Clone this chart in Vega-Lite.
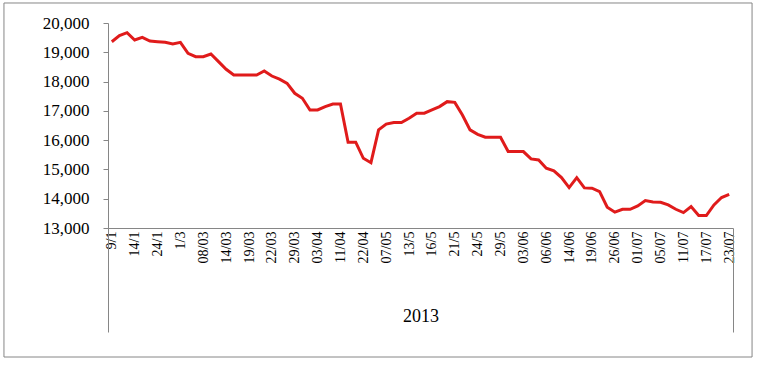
{
  "$schema": "https://vega.github.io/schema/vega-lite/v6.json",
  "width": 625,
  "height": 205,
  "autosize": {"type": "none"},
  "padding": {"left": 108, "top": 23, "right": 25, "bottom": 137},
  "background": "white",
  "config": {
    "view": {"stroke": null},
    "font": "Liberation Serif",
    "axis": {"labelFont": "Liberation Serif", "labelColor": "black", "grid": false, "domainColor": "#868686", "tickColor": "#868686", "domainWidth": 1, "tickWidth": 1, "labelOverlap": false}
  },
  "datasets": {
    "price": [
      {"i": 0, "price": 19360}, {"i": 1, "price": 19570}, {"i": 2, "price": 19670}, {"i": 3, "price": 19420},
      {"i": 4, "price": 19510}, {"i": 5, "price": 19385}, {"i": 6, "price": 19360}, {"i": 7, "price": 19340},
      {"i": 8, "price": 19285}, {"i": 9, "price": 19340}, {"i": 10, "price": 18965}, {"i": 11, "price": 18850},
      {"i": 12, "price": 18850}, {"i": 13, "price": 18940}, {"i": 14, "price": 18680}, {"i": 15, "price": 18420},
      {"i": 16, "price": 18225}, {"i": 17, "price": 18225}, {"i": 18, "price": 18225}, {"i": 19, "price": 18225},
      {"i": 20, "price": 18360}, {"i": 21, "price": 18190}, {"i": 22, "price": 18080}, {"i": 23, "price": 17940},
      {"i": 24, "price": 17600}, {"i": 25, "price": 17430}, {"i": 26, "price": 17030}, {"i": 27, "price": 17030},
      {"i": 28, "price": 17145}, {"i": 29, "price": 17235}, {"i": 30, "price": 17235}, {"i": 31, "price": 15930},
      {"i": 32, "price": 15930}, {"i": 33, "price": 15380}, {"i": 34, "price": 15230}, {"i": 35, "price": 16350},
      {"i": 36, "price": 16550}, {"i": 37, "price": 16600}, {"i": 38, "price": 16600}, {"i": 39, "price": 16750},
      {"i": 40, "price": 16920}, {"i": 41, "price": 16920}, {"i": 42, "price": 17030}, {"i": 43, "price": 17145},
      {"i": 44, "price": 17315}, {"i": 45, "price": 17290}, {"i": 46, "price": 16860}, {"i": 47, "price": 16350},
      {"i": 48, "price": 16200}, {"i": 49, "price": 16100}, {"i": 50, "price": 16100}, {"i": 51, "price": 16100},
      {"i": 52, "price": 15610}, {"i": 53, "price": 15610}, {"i": 54, "price": 15610}, {"i": 55, "price": 15360},
      {"i": 56, "price": 15325}, {"i": 57, "price": 15040}, {"i": 58, "price": 14950}, {"i": 59, "price": 14720},
      {"i": 60, "price": 14380}, {"i": 61, "price": 14720}, {"i": 62, "price": 14370}, {"i": 63, "price": 14360},
      {"i": 64, "price": 14245}, {"i": 65, "price": 13710}, {"i": 66, "price": 13540}, {"i": 67, "price": 13640},
      {"i": 68, "price": 13640}, {"i": 69, "price": 13755}, {"i": 70, "price": 13935}, {"i": 71, "price": 13890},
      {"i": 72, "price": 13880}, {"i": 73, "price": 13790}, {"i": 74, "price": 13640}, {"i": 75, "price": 13525},
      {"i": 76, "price": 13730}, {"i": 77, "price": 13425}, {"i": 78, "price": 13425}, {"i": 79, "price": 13790},
      {"i": 80, "price": 14040}, {"i": 81, "price": 14150}
    ],
    "year": [{"year": "2013"}]
  },
  "layer": [
    {
      "layer": [
        {
          "data": {"name": "price"},
          "mark": {"type": "line", "color": "#e01b1b", "strokeWidth": 3},
          "encoding": {
            "x": {
              "field": "i", "type": "quantitative",
              "scale": {"domain": [-0.5, 81.5], "nice": false, "zero": false},
              "axis": {
                "title": null,
                "values": [0, 3, 6, 9, 12, 15, 18, 21, 24, 27, 30, 33, 36, 39, 42, 45, 48, 51, 54, 57, 60, 63, 66, 69, 72, 75, 78, 81],
                "labelExpr": "['9/1','14/1','24/1','1/3','08/03','14/03','19/03','22/03','29/03','03/04','11/04','22/04','07/05','13/5','16/5','21/5','24/5','29/5','03/06','06/06','14/06','19/06','26/06','01/07','05/07','11/07','17/07','23/07'][round(datum.value/3)]",
                "labelAngle": 270,
                "ticks": false,
                "tickSize": 0,
                "labelPadding": 3,
                "labelFontSize": 14,
                "labelOverlap": false,
                "labelFlush": false,
                "labelBound": false
              }
            },
            "y": {
              "field": "price", "type": "quantitative",
              "scale": {"domain": [13000, 20000], "nice": false, "zero": false},
              "axis": {
                "title": null,
                "values": [13000, 14000, 15000, 16000, 17000, 18000, 19000, 20000],
                "format": ",d",
                "tickSize": 5,
                "labelPadding": 14,
                "labelFontSize": 17,
                "labelOverlap": false
              }
            }
          }
        },
        {
          "data": {"values": [{}]},
          "mark": {"type": "rect", "fillOpacity": 0, "stroke": "#868686", "strokeWidth": 1},
          "encoding": {
            "x": {
              "datum": -14.15, "type": "quantitative",
              "axis": {
                "title": null,
                "values": [0, 3, 6, 9, 12, 15, 18, 21, 24, 27, 30, 33, 36, 39, 42, 45, 48, 51, 54, 57, 60, 63, 66, 69, 72, 75, 78, 81],
                "labelExpr": "['9/1','14/1','24/1','1/3','08/03','14/03','19/03','22/03','29/03','03/04','11/04','22/04','07/05','13/5','16/5','21/5','24/5','29/5','03/06','06/06','14/06','19/06','26/06','01/07','05/07','11/07','17/07','23/07'][round(datum.value/3)]",
                "labelAngle": 270,
                "ticks": false,
                "tickSize": 0,
                "labelPadding": 3,
                "labelFontSize": 14,
                "labelOverlap": false,
                "labelFlush": false,
                "labelBound": false
              }
            },
            "x2": {"datum": 84.0},
            "y": {
              "datum": 20683, "type": "quantitative",
              "axis": {
                "title": null,
                "values": [13000, 14000, 15000, 16000, 17000, 18000, 19000, 20000],
                "format": ",d",
                "tickSize": 5,
                "labelPadding": 14,
                "labelFontSize": 17,
                "labelOverlap": false
              }
            },
            "y2": {"datum": 8595}
          }
        }
      ]
    },
    {
      "data": {"name": "year"},
      "mark": {"type": "text", "opacity": 0},
      "encoding": {
        "x": {
          "field": "year", "type": "nominal",
          "scale": {"type": "band", "paddingInner": 0, "paddingOuter": 0},
          "axis": {
            "orient": "bottom",
            "title": null,
            "domain": false,
            "ticks": true,
            "tickBand": "extent",
            "tickSize": 104,
            "labelPadding": -25,
            "labelAngle": 0,
            "labelFontSize": 18
          }
        },
        "text": {"field": "year"}
      }
    }
  ],
  "resolve": {"scale": {"x": "independent"}, "axis": {"x": "independent"}}
}
